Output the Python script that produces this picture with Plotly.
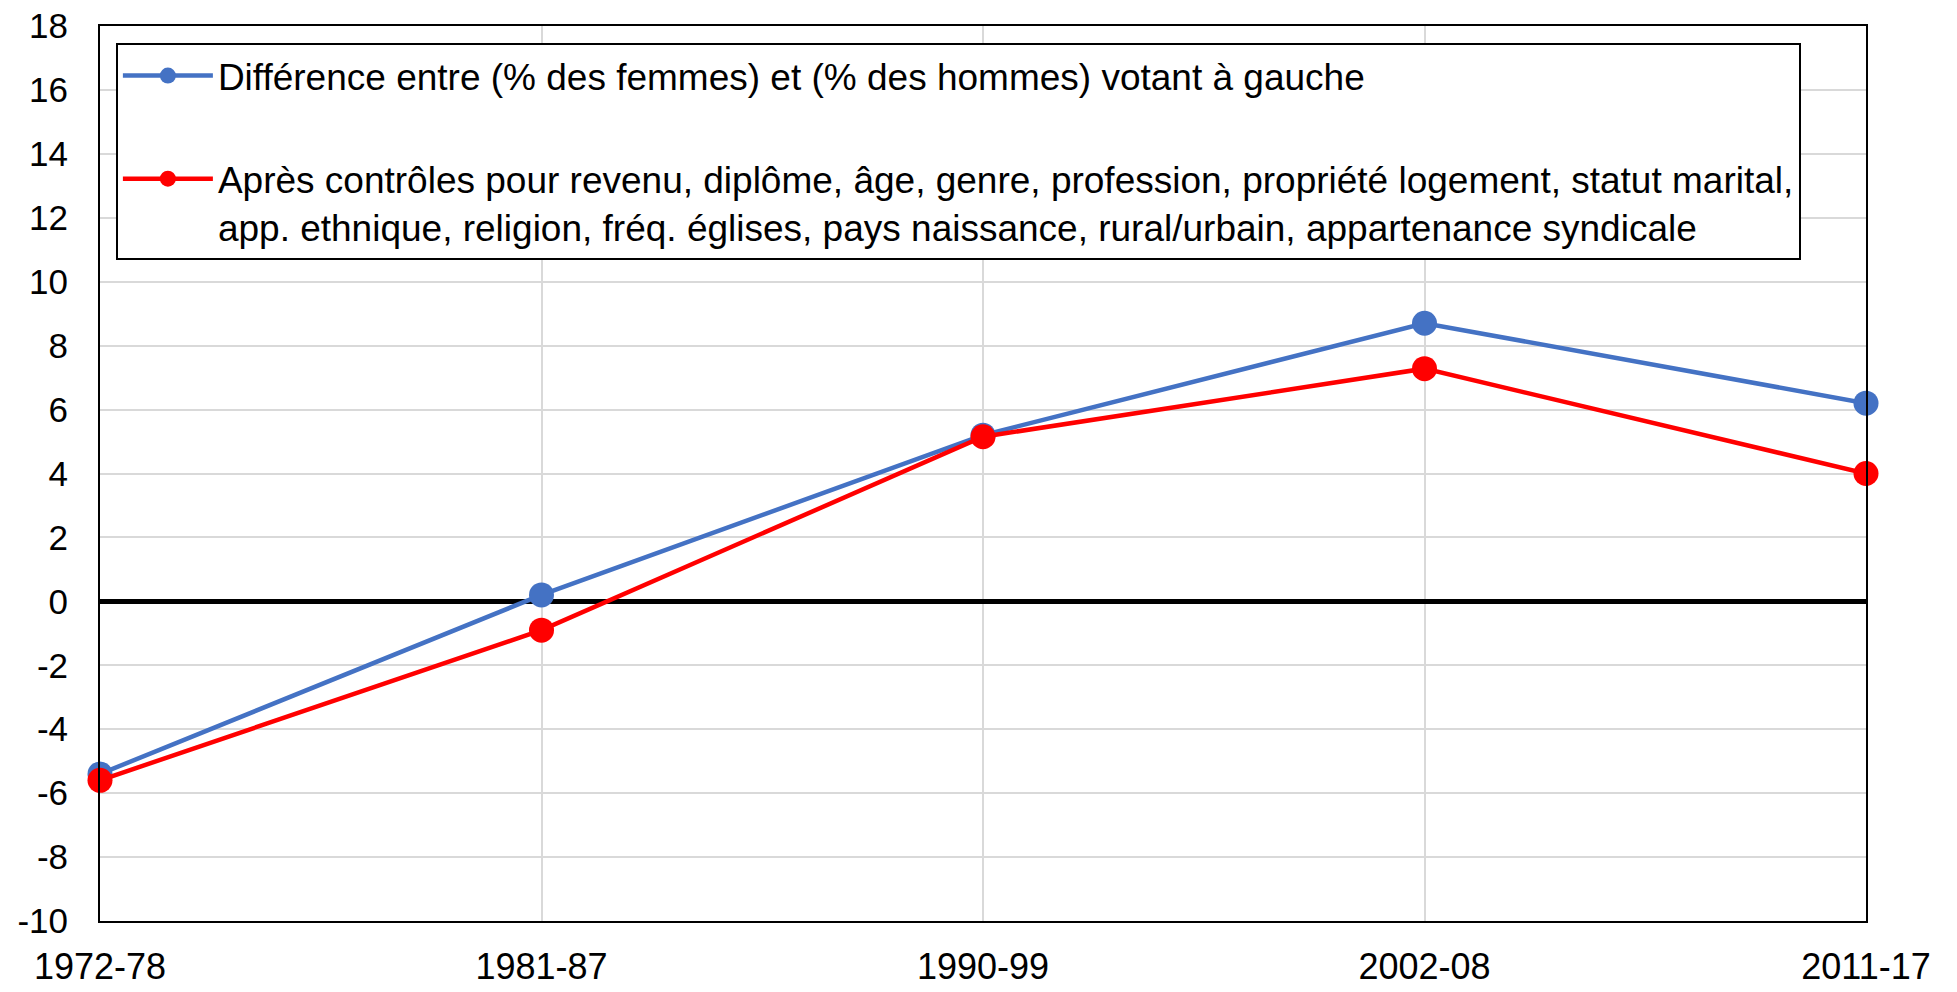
import plotly.graph_objects as go

periods = ["1972-78", "1981-87", "1990-99", "2002-08", "2011-17"]
raw_gap = [-5.4, 0.2, 5.2, 8.7, 6.2]
controlled_gap = [-5.6, -0.9, 5.15, 7.28, 4.0]

name_raw = "Différence entre (% des femmes) et (% des hommes) votant à gauche"
name_ctrl = ("Après contrôles pour revenu, diplôme, âge, genre, profession, propriété logement, statut marital,<br>"
             "app. ethnique, religion, fréq. églises, pays naissance, rural/urbain, appartenance syndicale")

y_ticks = list(range(-10, 19, 2))
y_tick_text = [str(v) for v in y_ticks]  # plain hyphen for negatives

font_family = "Liberation Sans, Arial, sans-serif"

fig = go.Figure()
fig.add_trace(go.Scatter(
    x=periods, y=raw_gap, name=name_raw, mode="lines+markers",
    line=dict(color="#4472C4", width=4.5),
    marker=dict(color="#4472C4", size=25),
    legendgroup="a", cliponaxis=False,
))
fig.add_trace(go.Scatter(
    x=periods, y=controlled_gap, name=name_ctrl, mode="lines+markers",
    line=dict(color="#FF0000", width=4.5),
    marker=dict(color="#FF0000", size=25),
    legendgroup="b", cliponaxis=False,
))

fig.update_layout(
    width=1957, height=992,
    margin=dict(l=100, r=91, t=26, b=71),
    paper_bgcolor="white", plot_bgcolor="white",
    font=dict(family=font_family, size=35, color="black"),
    showlegend=True,
    legend=dict(
        x=0.009, y=0.981, xanchor="left", yanchor="top",
        bordercolor="black", borderwidth=2, bgcolor="white",
        font=dict(size=37, family=font_family),
        tracegroupgap=52, valign="top", itemwidth=90,
    ),
)
fig.update_xaxes(
    type="category", range=[0, len(periods) - 1], automargin=False,
    showgrid=True, gridcolor="#D9D9D9", gridwidth=2,
    showline=True, linecolor="black", linewidth=2, mirror=True,
    ticks="", ticklabelstandoff=13,
    tickfont=dict(size=36),
)
fig.update_yaxes(
    range=[-10, 18], tickvals=y_ticks, ticktext=y_tick_text, automargin=False,
    showgrid=True, gridcolor="#D9D9D9", gridwidth=2,
    zeroline=True, zerolinecolor="black", zerolinewidth=5,
    showline=True, linecolor="black", linewidth=2, mirror=True,
    ticks="", ticklabelstandoff=23,
    tickfont=dict(size=35),
)

fig.write_html("out.html")
